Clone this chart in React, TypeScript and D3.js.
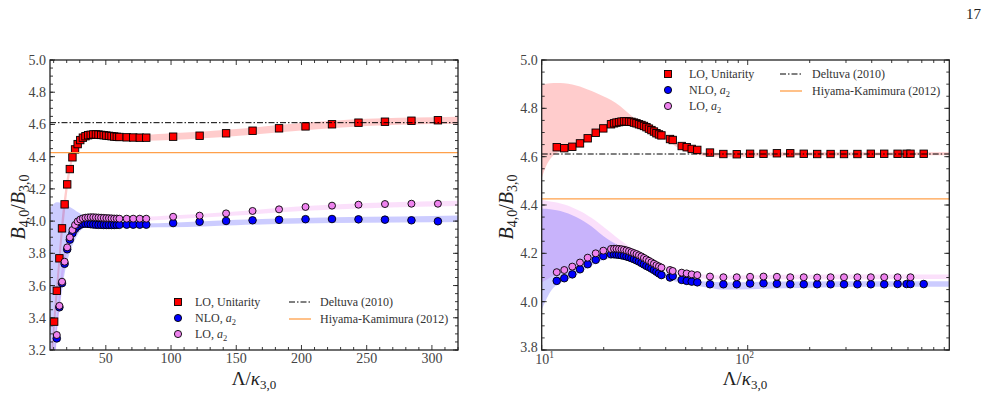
import * as d3 from "d3";

const FONT = "'Liberation Serif', 'DejaVu Serif', serif";

// Left panel: cutoff on a linear axis
const leftX = [10.4, 12.4, 14.4, 16.4, 18.4, 20.4, 22.4, 24.4, 26.4, 28.4, 30.4, 32.4, 34.4, 36.4, 38.4, 40.4, 42.4, 44.4, 46.4, 48.4, 50.4, 52.4, 54.4, 56.4, 58.4, 60.4, 66, 71, 76, 81, 101.6, 121.9, 142.2, 162.5, 182.8, 203.1, 223.4, 243.7, 264, 284.3, 304.6];
const leftUnitarity = [3.376, 3.568, 3.769, 3.955, 4.104, 4.228, 4.323, 4.396, 4.445, 4.478, 4.503, 4.518, 4.527, 4.533, 4.536, 4.538, 4.538, 4.537, 4.535, 4.533, 4.531, 4.529, 4.527, 4.525, 4.523, 4.522, 4.52, 4.519, 4.518, 4.518, 4.524, 4.53, 4.545, 4.561, 4.576, 4.588, 4.601, 4.611, 4.617, 4.623, 4.626];
const leftNLO = [null, 3.272, 3.465, 3.615, 3.735, 3.825, 3.885, 3.925, 3.952, 3.968, 3.978, 3.983, 3.984, 3.983, 3.981, 3.979, 3.978, 3.977, 3.977, 3.976, 3.976, 3.976, 3.976, 3.976, 3.977, 3.977, 3.978, 3.978, 3.978, 3.978, 3.988, 3.996, 4.001, 4.005, 4.008, 4.012, 4.013, 4.011, 4.009, 4.005, 3.999];
const leftLOa2 = [null, 3.293, 3.474, 3.624, 3.748, 3.837, 3.899, 3.945, 3.976, 3.998, 4.01, 4.017, 4.021, 4.023, 4.024, 4.024, 4.023, 4.022, 4.021, 4.02, 4.019, 4.018, 4.017, 4.016, 4.016, 4.015, 4.015, 4.015, 4.015, 4.015, 4.027, 4.034, 4.048, 4.063, 4.073, 4.088, 4.096, 4.102, 4.106, 4.108, 4.108];

// uncertainty bands, left panel
const leftBandX = [7, 9, 10.4, 12.4, 14.4, 16.4, 18.4, 20.4, 22.4, 24.4, 26.4, 28.4, 30.4, 33, 36, 40, 45, 50, 60, 80, 100, 150, 200, 250, 300, 320];
const leftUnitarityLo = [2.9, 3.12, 3.3, 3.49, 3.69, 3.88, 4.04, 4.18, 4.29, 4.37, 4.425, 4.462, 4.49, 4.505, 4.513, 4.518, 4.518, 4.513, 4.503, 4.499, 4.503, 4.528, 4.563, 4.59, 4.603, 4.605];
const leftUnitarityHi = [3.1, 3.28, 3.45, 3.64, 3.84, 4.03, 4.17, 4.28, 4.36, 4.42, 4.465, 4.495, 4.517, 4.535, 4.547, 4.556, 4.556, 4.55, 4.54, 4.537, 4.545, 4.572, 4.609, 4.636, 4.645, 4.648];
const leftNLOLo = [3.0, 3.0, 3.0, 3.31, 3.45, 3.57, 3.675, 3.75, 3.805, 3.85, 3.885, 3.915, 3.94, 3.958, 3.968, 3.968, 3.965, 3.963, 3.962, 3.961, 3.962, 3.975, 3.985, 3.99, 3.993, 3.995];
const leftNLOHi = [4.079, 4.1, 4.11, 4.117, 4.115, 4.11, 4.104, 4.097, 4.088, 4.078, 4.068, 4.057, 4.047, 4.032, 4.017, 4.004, 3.992, 3.988, 3.986, 3.986, 3.99, 4.008, 4.02, 4.027, 4.032, 4.035];
const leftLOa2Lo = [2.9, 2.9, 3.0, 3.27, 3.45, 3.6, 3.725, 3.815, 3.88, 3.928, 3.96, 3.985, 3.998, 4.006, 4.01, 4.01, 4.008, 4.006, 4.004, 4.004, 4.012, 4.035, 4.062, 4.08, 4.09, 4.094];
const leftLOa2Hi = [3.0, 3.1, 3.2, 3.4, 3.58, 3.72, 3.82, 3.89, 3.94, 3.975, 4.0, 4.015, 4.025, 4.032, 4.035, 4.035, 4.033, 4.031, 4.028, 4.028, 4.035, 4.06, 4.092, 4.112, 4.124, 4.127];

// Right panel: same quantities on a log axis
const rightX = [11.83, 12.87, 14.08, 15.34, 16.72, 18.29, 19.91, 21.7, 22.44, 23.07, 23.73, 24.4, 25.09, 25.8, 26.53, 27.28, 28.05, 28.85, 29.66, 30.5, 31.36, 32.25, 33.16, 34.1, 35.07, 36.06, 37.08, 38.13, 41.96, 43.25, 47.82, 50.57, 53.48, 56.93, 65.6, 76.2, 88.5, 102.7, 119.3, 138.6, 160.9, 187.1, 217.4, 252.6, 293.4, 340.9, 396.0, 459.9, 534.2, 590.5, 617.1, 715.0];
const rightUnitarity = [4.639, 4.635, 4.641, 4.655, 4.676, 4.699, 4.717, 4.734, 4.738, 4.741, 4.743, 4.745, 4.746, 4.746, 4.745, 4.744, 4.741, 4.738, 4.734, 4.731, 4.727, 4.722, 4.716, 4.71, 4.704, 4.697, 4.692, 4.688, 4.673, 4.669, 4.644, 4.639, 4.632, 4.628, 4.617, 4.611, 4.61, 4.612, 4.612, 4.614, 4.614, 4.612, 4.611, 4.611, 4.611, 4.611, 4.612, 4.612, 4.612, 4.612, 4.612, 4.612];
const rightNLO = [4.086, 4.097, 4.113, 4.134, 4.155, 4.173, 4.189, 4.196, 4.196, 4.195, 4.194, 4.192, 4.19, 4.187, 4.184, 4.18, 4.176, 4.171, 4.166, 4.16, 4.154, 4.148, 4.143, 4.137, 4.131, 4.124, 4.117, 4.11, 4.1, 4.106, 4.09, 4.086, 4.083, 4.08, 4.072, 4.072, 4.072, 4.075, 4.076, 4.074, 4.072, 4.072, 4.072, 4.072, 4.072, 4.072, 4.072, 4.072, 4.073, 4.073, 4.073, 4.073];
const rightLOa2 = [4.122, 4.131, 4.145, 4.162, 4.182, 4.2, 4.211, 4.218, 4.219, 4.219, 4.218, 4.217, 4.215, 4.212, 4.209, 4.205, 4.201, 4.197, 4.192, 4.187, 4.181, 4.175, 4.169, 4.163, 4.157, 4.151, 4.146, 4.141, 4.131, 4.127, 4.12, 4.117, 4.113, 4.11, 4.104, 4.101, 4.101, 4.103, 4.104, 4.103, 4.101, 4.101, 4.1, 4.101, 4.101, 4.101, 4.101, 4.101, 4.101, null, 4.101, null];

const rightBandX = [10, 10.5, 11, 11.83, 12.87, 14.08, 15.34, 16.72, 18.29, 19.91, 21.7, 24, 27, 30, 34, 38, 42, 47, 54, 60, 65, 76, 90, 120, 200, 400, 700, 952];
const rightUnitarityLo = [4.51, 4.56, 4.59, 4.615, 4.622, 4.632, 4.646, 4.666, 4.69, 4.708, 4.725, 4.735, 4.735, 4.725, 4.7, 4.678, 4.658, 4.632, 4.612, 4.605, 4.602, 4.6, 4.6, 4.602, 4.604, 4.605, 4.606, 4.606];
const rightUnitarityHi = [4.897, 4.902, 4.904, 4.905, 4.904, 4.899, 4.89, 4.878, 4.865, 4.85, 4.835, 4.81, 4.772, 4.738, 4.712, 4.69, 4.67, 4.648, 4.626, 4.618, 4.616, 4.616, 4.616, 4.617, 4.618, 4.618, 4.618, 4.618];
const rightNLOLo = [3.966, 4.007, 4.04, 4.07, 4.085, 4.1, 4.12, 4.14, 4.158, 4.172, 4.18, 4.178, 4.17, 4.155, 4.13, 4.105, 4.09, 4.078, 4.068, 4.062, 4.058, 4.05, 4.05, 4.053, 4.058, 4.062, 4.062, 4.062];
const rightNLOHi = [4.386, 4.384, 4.382, 4.378, 4.37, 4.358, 4.342, 4.322, 4.298, 4.272, 4.25, 4.23, 4.205, 4.185, 4.155, 4.128, 4.112, 4.097, 4.088, 4.084, 4.082, 4.08, 4.08, 4.082, 4.083, 4.084, 4.085, 4.085];
const rightLOa2Lo = [4.08, 4.09, 4.1, 4.11, 4.12, 4.133, 4.15, 4.17, 4.188, 4.2, 4.207, 4.205, 4.195, 4.18, 4.158, 4.135, 4.12, 4.108, 4.1, 4.096, 4.094, 4.092, 4.092, 4.093, 4.093, 4.093, 4.094, 4.094];
const rightLOa2Hi = [4.421, 4.418, 4.415, 4.41, 4.402, 4.39, 4.375, 4.357, 4.335, 4.31, 4.285, 4.255, 4.225, 4.205, 4.18, 4.16, 4.145, 4.13, 4.118, 4.113, 4.11, 4.108, 4.108, 4.11, 4.111, 4.112, 4.112, 4.112];

// reference values
const deltuva2010 = 4.611;
const hiyamaKamimura2012 = 4.425;

// axes
const leftXTicks = [50, 100, 150, 200, 250, 300];
const leftYTicks = [3.2, 3.4, 3.6, 3.8, 4.0, 4.2, 4.4, 4.6, 4.8, 5.0];
const rightXTicks = [10, 100];
const rightXTickExp = ["1", "2"];
const rightYTicks = [3.8, 4.0, 4.2, 4.4, 4.6, 4.8, 5.0];

const RED = "#ff0000";
const BLUE = "#0000ff";
const VIOLET = "#ee82ee";
const ORANGE = "#ffa04a";
const INK = "#333";

function Bands({ x, y, bx, bands, clip }) {
  return (
    <g clipPath={`url(#${clip})`}>
      {bands.map((b, i) => {
        const area = d3
          .area<number>()
          .x((_, k) => x(bx[k]))
          .y0((_, k) => y(b.lo[k]))
          .y1((_, k) => y(b.hi[k]))
          .curve(d3.curveMonotoneX);
        return <path key={i} d={area(bx) || ""} fill={b.color} stroke="none" />;
      })}
    </g>
  );
}

function Markers({ x, y, xs, unitarity, nlo, loa2 }) {
  const s = 7.4;
  return (
    <g stroke="#000" strokeWidth={0.9}>
      {xs.map((v, i) => (
        <rect key={"u" + i} x={x(v) - s / 2} y={y(unitarity[i]) - s / 2} width={s} height={s} fill={RED} />
      ))}
      {xs.map((v, i) =>
        nlo[i] == null ? null : <circle key={"n" + i} cx={x(v)} cy={y(nlo[i])} r={3.8} fill={BLUE} />
      )}
      {xs.map((v, i) =>
        loa2[i] == null ? null : <circle key={"l" + i} cx={x(v)} cy={y(loa2[i])} r={3.5} fill={VIOLET} />
      )}
    </g>
  );
}

function RefLines({ x0, x1, y }) {
  return (
    <g>
      <line x1={x0} x2={x1} y1={y(hiyamaKamimura2012)} y2={y(hiyamaKamimura2012)} stroke={ORANGE} strokeWidth={1.2} />
      <line x1={x0} x2={x1} y1={y(deltuva2010)} y2={y(deltuva2010)} stroke="#000" strokeWidth={1} strokeDasharray="6 2 1.5 2" />
    </g>
  );
}

function Frame({ box, xMajor, xMinor, yMajor, yMinor, x, y }) {
  const marks = [];
  const tick = (key, x1, y1, x2, y2) =>
    marks.push(<line key={key} x1={x1} y1={y1} x2={x2} y2={y2} />);
  xMajor.forEach((v, i) => {
    const p = x(v);
    tick("xb" + i, p, box.y1, p, box.y1 - 5);
    tick("xt" + i, p, box.y0, p, box.y0 + 5);
  });
  xMinor.forEach((v, i) => {
    const p = x(v);
    tick("xmb" + i, p, box.y1, p, box.y1 - 3);
    tick("xmt" + i, p, box.y0, p, box.y0 + 3);
  });
  yMajor.forEach((v, i) => {
    const p = y(v);
    tick("yl" + i, box.x0, p, box.x0 + 5, p);
    tick("yr" + i, box.x1, p, box.x1 - 5, p);
  });
  yMinor.forEach((v, i) => {
    const p = y(v);
    tick("yml" + i, box.x0, p, box.x0 + 3, p);
    tick("ymr" + i, box.x1, p, box.x1 - 3, p);
  });
  return (
    <g stroke="#222" fill="none">
      <g strokeWidth={0.9}>{marks}</g>
      <rect x={box.x0} y={box.y0} width={box.x1 - box.x0} height={box.y1 - box.y0} strokeWidth={1.3} />
    </g>
  );
}

function YLabel({ cx, cy }) {
  return (
    <text transform={`translate(${cx},${cy}) rotate(-90)`} textAnchor="middle" fontSize={20} fill="#222" fontFamily={FONT}>
      <tspan fontStyle="italic">B</tspan>
      <tspan fontSize={14} dy={4}>4,0</tspan>
      <tspan dy={-4}>/</tspan>
      <tspan fontStyle="italic">B</tspan>
      <tspan fontSize={14} dy={4}>3,0</tspan>
    </text>
  );
}

function XLabel({ cx, y }) {
  return (
    <text x={cx} y={y} textAnchor="middle" fontSize={19} fill="#222" fontFamily={FONT}>
      <tspan>Λ/</tspan>
      <tspan fontStyle="italic">κ</tspan>
      <tspan fontSize={13} dy={4}>3,0</tspan>
    </text>
  );
}

function Legend({ mx, tx, top, lx, ltx }) {
  const rows = [
    { label: "LO, Unitarity", mark: "square" },
    { label: "NLO, ", sub: true, mark: BLUE },
    { label: "LO, ", sub: true, mark: VIOLET },
  ];
  const gap = 16;
  return (
    <g fontFamily={FONT} fontSize={12} fill={INK}>
      {rows.map((r, i) => {
        const cy = top + i * gap;
        return (
          <g key={i}>
            {r.mark === "square" ? (
              <rect x={mx - 3.5} y={cy - 3.5} width={7} height={7} fill={RED} stroke="#000" strokeWidth={0.9} />
            ) : (
              <circle cx={mx} cy={cy} r={3.6} fill={r.mark} stroke="#000" strokeWidth={0.9} />
            )}
            <text x={tx} y={cy + 4}>
              {r.label}
              {r.sub ? (
                <>
                  <tspan fontStyle="italic">a</tspan>
                  <tspan fontSize={8.5} dy={3}>2</tspan>
                </>
              ) : null}
            </text>
          </g>
        );
      })}
      <line x1={lx} x2={lx + 22} y1={top} y2={top} stroke="#000" strokeWidth={1} strokeDasharray="6 2 1.5 2" />
      <text x={ltx} y={top + 4}>Deltuva (2010)</text>
      <line x1={lx} x2={lx + 22} y1={top + 17} y2={top + 17} stroke={ORANGE} strokeWidth={1.3} />
      <text x={ltx} y={top + 21}>Hiyama-Kamimura (2012)</text>
    </g>
  );
}

export default function App() {
  const lbox = { x0: 50, x1: 458, y0: 60, y1: 350 };
  const rbox = { x0: 541.7, x1: 949.3, y0: 60, y1: 350 };

  const lx = d3.scaleLinear().domain([7.2, 320]).range([lbox.x0, lbox.x1]);
  const ly = d3.scaleLinear().domain([3.2, 5.0]).range([lbox.y1, lbox.y0]);
  const rx = d3.scaleLog().domain([10, 952]).range([rbox.x0, rbox.x1]);
  const ry = d3.scaleLinear().domain([3.8, 5.0]).range([rbox.y1, rbox.y0]);

  const leftXMinor = d3.range(10, 321, 10).filter((v) => v % 50 !== 0);
  const leftYMinor = d3.range(3.2, 5.001, 0.05);
  const rightXMinor = [20, 30, 40, 50, 60, 70, 80, 90, 200, 300, 400, 500, 600, 700, 800, 900];
  const rightYMinor = d3.range(3.8, 5.001, 0.05);
  const fmt = d3.format(".1f");

  const leftBands = [
    { lo: leftUnitarityLo, hi: leftUnitarityHi, color: "rgba(255,0,0,0.2)" },
    { lo: leftLOa2Lo, hi: leftLOa2Hi, color: "rgba(238,130,238,0.25)" },
    { lo: leftNLOLo, hi: leftNLOHi, color: "rgba(0,0,255,0.2)" },
  ];
  const rightBands = [
    { lo: rightUnitarityLo, hi: rightUnitarityHi, color: "rgba(255,0,0,0.2)" },
    { lo: rightLOa2Lo, hi: rightLOa2Hi, color: "rgba(238,130,238,0.25)" },
    { lo: rightNLOLo, hi: rightNLOHi, color: "rgba(0,0,255,0.2)" },
  ];

  return (
    <div style={{ position: "absolute", left: 0, top: 0 }}>
      <svg width={992} height={420} style={{ display: "block", background: "#fff" }}>
        <defs>
          <clipPath id="clipL">
            <rect x={lbox.x0} y={lbox.y0} width={lbox.x1 - lbox.x0} height={lbox.y1 - lbox.y0} />
          </clipPath>
          <clipPath id="clipR">
            <rect x={rbox.x0} y={rbox.y0} width={rbox.x1 - rbox.x0} height={rbox.y1 - rbox.y0} />
          </clipPath>
        </defs>

        <text x={981} y={19} textAnchor="end" fontSize={15} fill="#222" fontFamily={FONT}>17</text>

        {/* left: linear cutoff */}
        <Bands x={lx} y={ly} bx={leftBandX} bands={leftBands} clip="clipL" />
        <Markers x={lx} y={ly} xs={leftX} unitarity={leftUnitarity} nlo={leftNLO} loa2={leftLOa2} />
        <RefLines x0={lbox.x0} x1={lbox.x1} y={ly} />
        <Frame box={lbox} xMajor={leftXTicks} xMinor={leftXMinor} yMajor={leftYTicks} yMinor={leftYMinor} x={lx} y={ly} />
        <g fontFamily={FONT} fontSize={14} fill="#444">
          {leftYTicks.map((v) => (
            <text key={v} x={lbox.x0 - 4} y={ly(v) + 5} textAnchor="end">{fmt(v)}</text>
          ))}
          {leftXTicks.map((v) => (
            <text key={v} x={lx(v)} y={lbox.y1 + 13} textAnchor="middle">{v}</text>
          ))}
        </g>
        <YLabel cx={25} cy={207} />
        <XLabel cx={254} y={385} />
        <Legend mx={178} tx={195} top={302} lx={289} ltx={320} />

        {/* right: log cutoff */}
        <Bands x={rx} y={ry} bx={rightBandX} bands={rightBands} clip="clipR" />
        <Markers x={rx} y={ry} xs={rightX} unitarity={rightUnitarity} nlo={rightNLO} loa2={rightLOa2} />
        <RefLines x0={rbox.x0} x1={rbox.x1} y={ry} />
        <Frame box={rbox} xMajor={rightXTicks} xMinor={rightXMinor} yMajor={rightYTicks} yMinor={rightYMinor} x={rx} y={ry} />
        <g fontFamily={FONT} fontSize={14} fill="#444">
          {rightYTicks.map((v, i) => (
            <text key={v} x={rbox.x0 - 4} y={ry(v) + (i === 0 ? 2 : 5)} textAnchor="end">{fmt(v)}</text>
          ))}
          {rightXTicks.map((v, i) => (
            <text key={v} x={rx(v) + (i === 0 ? 3 : -3)} y={rbox.y1 + 14} textAnchor="middle">
              10<tspan fontSize={9.5} dy={-6}>{rightXTickExp[i]}</tspan>
            </text>
          ))}
        </g>
        <YLabel cx={513} cy={207} />
        <XLabel cx={745} y={385} />
        <Legend mx={668} tx={689} top={74} lx={780} ltx={812} />
      </svg>
    </div>
  );
}
